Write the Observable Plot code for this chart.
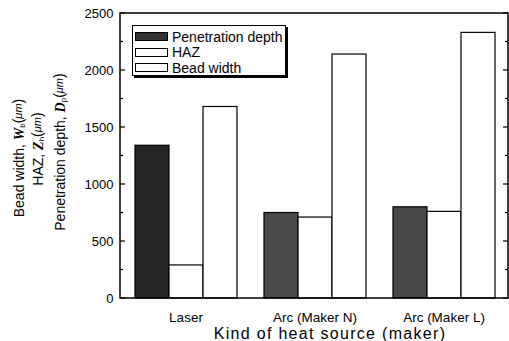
<!DOCTYPE html>
<html><head><meta charset="utf-8">
<script src="https://cdn.jsdelivr.net/npm/d3@7"></script>
<script src="https://cdn.jsdelivr.net/npm/@observablehq/plot@0.6"></script>
<style>
body{margin:0;background:#fff}
#wrap{position:relative;width:509px;height:341px;font-family:"Liberation Sans",Arial,sans-serif}
#legend{position:absolute;left:132px;top:25px;width:154px;height:51px;border:1px solid #000;box-shadow:2px 2px 0 #000;background:#fff;box-sizing:border-box;padding:3px 0 0 2px}
.row{display:flex;align-items:center;height:15.5px;font-size:14px;color:#000}
.sw{width:33px;height:9px;border:1px solid #000;margin-right:4px;box-sizing:border-box}
</style></head>
<body><div id="wrap"></div>
<script>
const sources = ["Laser", "Arc (Maker N)", "Arc (Maker L)"];
const series = ["Penetration depth", "HAZ", "Bead width"];
const penetration = [1340, 750, 800];
const haz = [290, 710, 760];
const beadWidth = [1680, 2140, 2330];
const yTicks = [0, 500, 1000, 1500, 2000, 2500];
const yMinorTicks = [250, 750, 1250, 1750, 2250];
const penFills = ["#262626", "#4a4a4a", "#474747"];
const legendFills = ["#333333", "#ffffff", "#ffffff"];

const rows = [];
sources.forEach((s, i) => {
  rows.push({source: s, series: series[0], value: penetration[i], fill: penFills[i]});
  rows.push({source: s, series: series[1], value: haz[i], fill: "#ffffff"});
  rows.push({source: s, series: series[2], value: beadWidth[i], fill: "#ffffff"});
});

const plot = Plot.plot({
  width: 509, height: 341,
  marginLeft: 120, marginRight: 1, marginTop: 13, marginBottom: 43,
  style: {fontFamily: '"Liberation Sans", Arial, sans-serif', color: "#000", background: "#fff"},
  fx: {domain: sources, padding: 0},
  x: {domain: series, paddingInner: 0, paddingOuter: 0.347, axis: null},
  y: {domain: [0, 2500]},
  color: {type: "identity"},
  marks: [
    Plot.barY(rows, {fx: "source", x: "series", y: "value", fill: "fill", stroke: "#000", strokeWidth: 1.2}),
    Plot.axisY({ticks: yTicks, tickSize: 0, tickPadding: 8, fontSize: 13, tickFormat: d => String(d), label: null}),
    Plot.axisFx({anchor: "bottom", tickSize: 0, tickPadding: 14, fontSize: 13.5, label: null})
  ]
});

const wrap = document.getElementById("wrap");
wrap.appendChild(plot);

const svg = d3.select(plot);
const fxR = plot.scale("fx").range;
const yS = plot.scale("y");
const yR = yS.range;
svg.append("rect")
  .attr("x", fxR[0]).attr("y", yR[1])
  .attr("width", fxR[1] - fxR[0]).attr("height", yR[0] - yR[1])
  .attr("fill", "none").attr("stroke", "#000").attr("stroke-width", 1.5);

// inward ticks on both sides, positioned by the Plot y scale
const tg = svg.append("g").attr("stroke", "#000").attr("stroke-width", 1.2);
[[yTicks, 5], [yMinorTicks, 3]].forEach(([vals, len]) => {
  vals.forEach(v => {
    const yy = yS.apply(v);
    tg.append("line").attr("x1", fxR[0]).attr("x2", fxR[0] + len).attr("y1", yy).attr("y2", yy);
    tg.append("line").attr("x1", fxR[1]).attr("x2", fxR[1] - len).attr("y1", yy).attr("y2", yy);
  });
});

svg.append("text")
  .attr("x", 330).attr("y", 333)
  .attr("text-anchor", "middle").attr("dominant-baseline", "central")
  .attr("font-size", 16).attr("letter-spacing", "1.3px").attr("fill", "#000")
  .text("Kind of heat source (maker)");

const yLabels = [
  {x: 19, cy: 158, pre: "Bead width, ", sym: "W", sub: "b"},
  {x: 38, cy: 149, pre: "HAZ, ", sym: "Z", sub: "h"},
  {x: 60, cy: 152, pre: "Penetration depth, ", sym: "D", sub: "p"}
];
yLabels.forEach(l => {
  const t = svg.append("text")
    .attr("transform", `translate(${l.x},${l.cy}) rotate(-90)`)
    .attr("text-anchor", "middle").attr("dominant-baseline", "central")
    .attr("font-size", 14).attr("fill", "#000");
  t.append("tspan").text(l.pre);
  t.append("tspan").attr("font-style", "italic").attr("font-weight", "bold").attr("font-family", "Liberation Serif, serif").text(l.sym);
  t.append("tspan").attr("font-size", 8).attr("dy", 3).text(l.sub);
  t.append("tspan").attr("dy", -4).attr("font-size", 14).text("(");
  t.append("tspan").attr("font-size", 11).attr("font-style", "italic").text("μm");
  t.append("tspan").attr("font-size", 14).text(")");
});

const legend = document.createElement("div");
legend.id = "legend";
series.forEach((s, i) => {
  const r = document.createElement("div");
  r.className = "row";
  const sw = document.createElement("div");
  sw.className = "sw";
  sw.style.background = legendFills[i];
  const lab = document.createElement("span");
  lab.textContent = s;
  r.appendChild(sw); r.appendChild(lab);
  legend.appendChild(r);
});
wrap.appendChild(legend);
</script></body></html>
